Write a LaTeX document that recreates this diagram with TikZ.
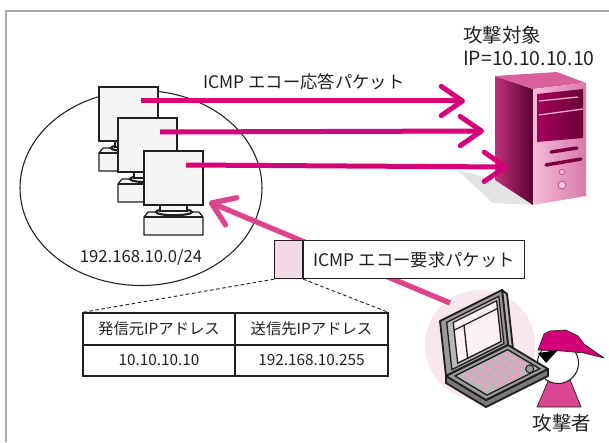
\documentclass[tikz,border=0pt]{standalone}
\usepackage{fontspec}
\setmainfont{Noto Sans CJK JP}
\usetikzlibrary{arrows.meta,shapes.geometric,calc}

\definecolor{ink}{HTML}{231F20}
\definecolor{respcol}{HTML}{D5007A}
\definecolor{reqcol}{HTML}{DE448C}
\definecolor{framecol}{HTML}{A8A8A8}
\definecolor{pcfill}{HTML}{F5F5F5}
\definecolor{pktpink}{HTML}{F3D8E6}
\definecolor{halo}{HTML}{F8E6EF}
\definecolor{shadowgray}{HTML}{E3E3E3}
\definecolor{srvsideA}{HTML}{C0307A}
\definecolor{srvsideB}{HTML}{5A0032}
\definecolor{srvtop}{HTML}{D9609B}
\definecolor{srvfrontA}{HTML}{F4BCD8}
\definecolor{srvfrontB}{HTML}{D87AAA}
\definecolor{panelA}{HTML}{A4005A}
\definecolor{panelB}{HTML}{6A0036}
\definecolor{panelline}{HTML}{E8A6CA}
\definecolor{slot}{HTML}{7A0040}
\definecolor{led}{HTML}{F6C6DD}
\definecolor{ledline}{HTML}{C4508C}
\definecolor{lapgray}{HTML}{9A9A9A}
\definecolor{laplight}{HTML}{B8B8B8}
\definecolor{lapdark}{HTML}{7A7A7A}
\definecolor{screen}{HTML}{FBF1F6}
\definecolor{keypink}{HTML}{EAA2C4}
\definecolor{capcol}{HTML}{D4007A}
\definecolor{bodycol}{HTML}{DA4692}

\tikzset{
  lbl/.style={font=\fontsize{12.5pt}{15pt}\selectfont, text=ink, inner sep=0pt},
  pktlbl/.style={font=\fontsize{13pt}{15pt}\selectfont, text=ink, inner sep=0pt},
  biglbl/.style={font=\fontsize{14.6pt}{17pt}\selectfont, text=ink, inner sep=0pt},
  cell/.style={draw=ink, line width=0.9pt, inner sep=0pt, text=ink,
    font=\fontsize{11.5pt}{13pt}\selectfont},
  scr/.style={draw=ink, fill=pcfill, line width=0.9pt, rectangle, inner sep=0pt,
    minimum width=44.25pt, minimum height=40.5pt},
  resp/.style={draw=respcol, line width=3.75pt,
    -{Straight Barb[length=16pt,width=22pt,round]}},
  reqarrow/.style={draw=reqcol, line width=4pt,
    -{Straight Barb[length=16pt,width=22pt,round]}},
  lapline/.style={draw=ink, line width=1.4pt, line join=round},
  % desktop PC: base, neck and screen; origin is the screen's top left corner
  pc/.pic={
    \draw[ink, fill=pcfill, line width=0.9pt, line join=round]
      (0,66) -- (4,61) -- (55,61) -- (59,66) -- (59,84) -- (0,84) -- cycle;
    \draw[ink, line width=0.9pt] (0,66) -- (59,66);
    \draw[ink, fill=white, line width=1.6pt] (30,61) ellipse [x radius=13.5pt, y radius=2.4pt];
    \draw[ink, fill=pcfill, line width=0.8pt] (16,53) rectangle (43,60);
    \node[scr] (-scr) at (29.5,27) {};
    \coordinate (-src) at (42,14);
  }
}

\begin{document}
\begin{tikzpicture}[x=0.75pt,y=-0.75pt]
\useasboundingbox (0,0) rectangle (609,442);

% frame
\draw[framecol, line width=1.3pt] (6,442) -- (6,11) -- (609,11);

% local network
\node[draw=ink, line width=0.8pt, ellipse, minimum width=181.5pt, minimum height=146.25pt,
  inner sep=0pt] (net) at (141,188) {};
\node[lbl] (netlbl) at (141,257) {192.168.10.0/24};

\pic (pc1) at (99,87) {pc};
\pic (pc2) at (118,118) {pc};
\pic (pc3) at (144,151) {pc};

% target server
\fill[shadowgray] (457,170) -- (495,180) -- (533,205) -- (493,203) -- cycle;
\shade[left color=srvsideA, right color=srvsideB] (495,76) -- (533,89) -- (533,205) -- (495,180) -- cycle;
\fill[srvtop] (495,76) -- (557,72) -- (586,83) -- (533,89) -- cycle;
\shade[left color=srvfrontA, right color=srvfrontB] (533,89) -- (586,83) -- (586,196) -- (533,205) -- cycle;
\shade[left color=panelA, right color=panelB] (537,94) -- (583,89) -- (583,138) -- (537,142) -- cycle;
\draw[panelline, line width=1pt] (539,101) -- (578,97);
\draw[panelline, line width=1pt] (539,115) -- (583,109);
\draw[slot, line width=2.6pt, line cap=round] (551,152) -- (577,148);
\draw[slot, line width=2.6pt, line cap=round] (546,165) -- (581,159);
\draw[ledline, fill=led, line width=0.7pt] (562,172) circle [radius=2pt];
\draw[ledline, fill=led, line width=0.7pt] (562,185) circle [radius=3pt];
\coordinate (srvin1) at (465,101);
\coordinate (srvin2) at (484,131);
\coordinate (srvin3) at (508,167);

\node[biglbl, anchor=west] (tgtname) at (463,35) {攻撃対象};
\node[biglbl, anchor=west] (tgtip) at (463,58) {IP=10.10.10.10};

% echo replies
\node[pktlbl, anchor=west] (resplbl) at (203,82) {ICMP エコー応答パケット};
\draw[resp] (pc1-src) -- (srvin1);
\draw[resp] (pc2-src) -- (srvin2);
\draw[resp] (pc3-src) -- (srvin3);

% attacker
\fill[halo] (480,345) circle [radius=41.25pt];
\draw[ink, fill=bodycol, line width=0.5pt] (552,372) -- (567,372) -- (581,407) -- (537,407) -- cycle;
\draw[ink, fill=white, line width=0.8pt] (558,363) circle [radius=15.4pt];
\draw[ink, fill=capcol, line width=0.5pt, line join=round]
  (538,350) -- (544,334) -- (550,331) -- (566,330) -- (578,336) -- (584,344)
  -- (604,358) -- (584,353) -- (562,351) -- cycle;
\fill[black] (538,353) -- (558,350) -- (546,363) -- cycle;

% laptop lid
\begin{scope}[shift={(446,376)}, x={(46.5pt,23.25pt)}, y={(-4.5pt,41.25pt)}]
  \draw[lapline, fill=laplight] (1,0) -- (1,1) -- ([shift={(3.75pt,-3pt)}]1,1) -- ([shift={(3.75pt,-3pt)}]1,0) -- cycle;
  \draw[lapline, fill=lapgray] (0,0) -- (1,0) -- (1,1) -- (0,1) -- cycle;
  \draw[ink, line width=1pt, fill=laplight] (0.1,0.06) -- (0.94,0.06) -- (0.94,0.92) -- (0.1,0.92) -- cycle;
  \draw[ink, line width=1pt, fill=screen] (0.2,0.12) -- (0.9,0.12) -- (0.9,0.86) -- (0.2,0.86) -- cycle;
  \draw[ink, line width=1pt] (0.2,0.72) -- (0.9,0.72);
  \draw[ink, line width=1pt] (0.36,0.12) -- (0.36,0.72);
\end{scope}
% laptop deck
\begin{scope}[shift={(446,376)}, x={(46.5pt,23.25pt)}, y={(30pt,-18pt)}]
  \draw[lapline, fill=lapdark] (0,0) -- (0,1) -- (1,1) -- ([yshift=-5.25pt]1,1) -- ([yshift=-5.25pt]0,1) -- ([yshift=-5.25pt]0,0) -- cycle;
  \draw[lapline, fill=lapgray] (0,0) -- (1,0) -- (1,1) -- (0,1) -- cycle;
  \draw[ink, line width=1pt, fill=laplight] (0.08,0.1) -- (0.93,0.1) -- (0.93,0.9) -- (0.08,0.9) -- cycle;
  \foreach \s in {0.16,0.29,0.42,0.55,0.68,0.81}
    \foreach \t in {0.16,0.31,0.46,0.61}
      \fill[keypink] (\s,\t) -- ++(0.08,0) -- ++(0,0.1) -- ++(-0.08,0) -- cycle;
  \fill[keypink] (0.3,0.75) -- (0.72,0.75) -- (0.72,0.83) -- (0.3,0.83) -- cycle;
  \draw[ink, line width=0.8pt, fill=lapgray] (0.84,0.79) circle [radius=3pt];
\end{scope}
\node[biglbl] (atklbl) at (562,423) {攻撃者};

% echo request
\coordinate (lapedge) at (450,303);
\coordinate (hit) at (209,202);
\draw[reqarrow] (lapedge) -- (hit);

\node[draw=ink, fill=pktpink, line width=0.9pt, anchor=north west, inner sep=0pt,
  minimum width=21pt, minimum height=28.5pt] (pkt) at (274,240) {};
\node[draw=ink, fill=white, line width=0.9pt, anchor=west, inner sep=0pt,
  minimum width=165.75pt, minimum height=28.5pt, pktlbl] (req) at (pkt.east) {ICMP エコー要求パケット};

% packet header
\node[cell, minimum width=114pt, minimum height=24pt] (c11) at (159,329) {発信元IPアドレス};
\node[cell, minimum width=114.75pt, minimum height=24pt] (c12) at (311.5,329) {送信先IPアドレス};
\node[cell, minimum width=114pt, minimum height=23.25pt] (c21) at (159,360.5) {10.10.10.10};
\node[cell, minimum width=114.75pt, minimum height=23.25pt] (c22) at (311.5,360.5) {192.168.10.255};
\draw[ink, line width=0.7pt, dash pattern=on 2.6pt off 2pt] (pkt.south west) -- (c11.north west);
\draw[ink, line width=0.7pt, dash pattern=on 2.6pt off 2pt] (pkt.south east) -- (c12.north east);

\end{tikzpicture}
\end{document}
